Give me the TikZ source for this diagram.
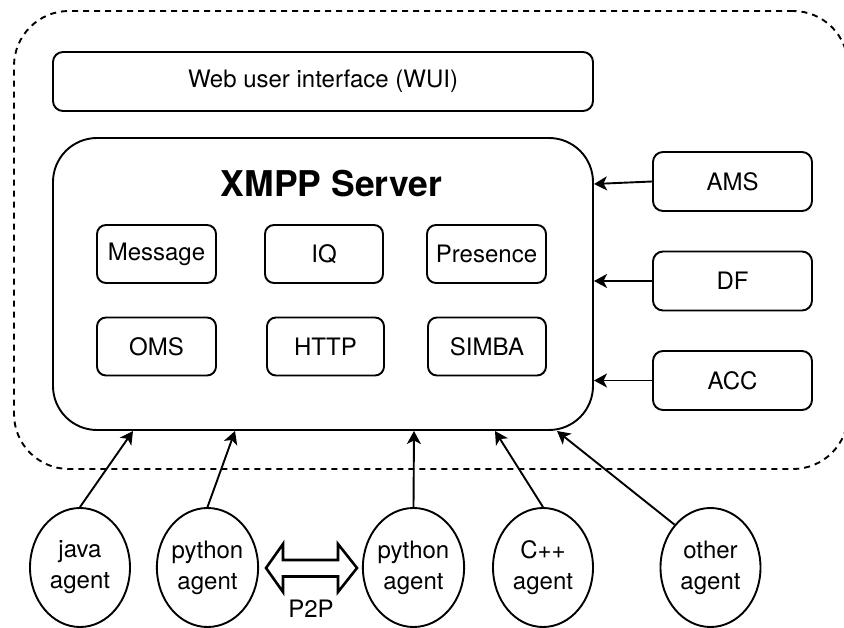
\documentclass[tikz,border=0pt]{standalone}
\usepackage{fontspec}
\setmainfont{TeX Gyre Heros}
\usetikzlibrary{shapes.geometric,arrows.meta}
\begin{document}
\begin{tikzpicture}[x=1pt,y=-1pt,
  base/.style={draw, line width=1.9pt, inner sep=0pt, align=center,
    font=\fontsize{24}{31}\selectfont},
  box/.style={base, rounded corners=10pt, minimum width=#1, minimum height=59pt},
  inbox/.style={base, rounded corners=9pt, minimum width=#1, minimum height=58pt},
  agent/.style={base, ellipse, minimum width=100pt, minimum height=119pt},
  link/.style={line width=1.9pt, -{Stealth[length=13pt,width=14pt,inset=3.5pt]}},
  container/.style={draw, line width=1.9pt, dash pattern=on 6pt off 5pt,
    rounded corners=55pt, minimum width=834pt, minimum height=458pt}
]
\useasboundingbox (0,0) rectangle (844,628);
\clip (0,0) rectangle (844,628);

% dashed platform boundary
\node[container] (platform) at (431,240) {};

% web interface and server
\node[box=540pt] (wui) at (323,81.5) {Web user interface (WUI)};
\node[base, rounded corners=44pt, minimum width=540pt, minimum height=292pt] (xmpp) at (323,284) {};
\node[font=\bfseries\fontsize{35.5}{40}\selectfont] (title) at (331.5,184) {XMPP Server};

% server modules
\node[inbox=119pt] (msg)   at (156.5,254) {Message};
\node[inbox=118pt] (iq)    at (324,254)   {IQ};
\node[inbox=119pt] (pres)  at (486.5,254) {Presence};
\node[inbox=119pt] (oms)   at (156.5,346.5) {OMS};
\node[inbox=117pt] (http)  at (325.5,346.5) {HTTP};
\node[inbox=118pt] (simba) at (487,346.5)   {SIMBA};

% platform services
\node[box=159pt] (ams) at (732.5,181.5) {AMS};
\node[box=159pt] (df)  at (732.5,281)   {DF};
\node[box=159pt] (acc) at (732.5,380.5) {ACC};

\coordinate (inAMS) at (594,184);
\coordinate (inDF)  at (594,281);
\coordinate (inACC) at (594,380.5);
\draw[link] (ams.west) -- (inAMS);
\draw[link] (df.west)  -- (inDF);
\draw[link] (acc.west) -- (inACC);

% agents
\node[agent] (java)  at (80,567.5)    {java\\agent};
\node[agent] (py1)   at (207.5,567.5) {python\\agent};
\node[agent] (py2)   at (413.5,567.5) {python\\agent};
\node[agent] (cpp)   at (543,567.5)   {C++\\agent};
\node[agent] (other) at (710.5,567.5) {other\\agent};

\coordinate (inJava)  at (133,431);
\coordinate (inPy1)   at (235,431);
\coordinate (inPy2)   at (414,431);
\coordinate (inCpp)   at (495,431);
\coordinate (inOther) at (557,431);
\draw[link] (java.north)  -- (inJava);
\draw[link] (py1.north)   -- (inPy1);
\draw[link] (py2.north)   -- (inPy2);
\draw[link] (cpp.north)   -- (inCpp);
\draw[link] (other.130)   -- (inOther);

% peer-to-peer double arrow
\coordinate (p2p) at (311.5,568);
\draw[line width=2.6pt, line join=miter, fill=white]
  (p2p) ++(-45.5,0) -- ++(17,-24) -- ++(0,16) -- ++(55,0) -- ++(0,-16)
  -- ++(19,24) -- ++(-19,24) -- ++(0,-15.5) -- ++(-55,0) -- ++(0,15.5) -- cycle;
\node[font=\fontsize{24}{31}\selectfont] (p2plabel) at (311,609) {P2P};
\end{tikzpicture}
\end{document}
